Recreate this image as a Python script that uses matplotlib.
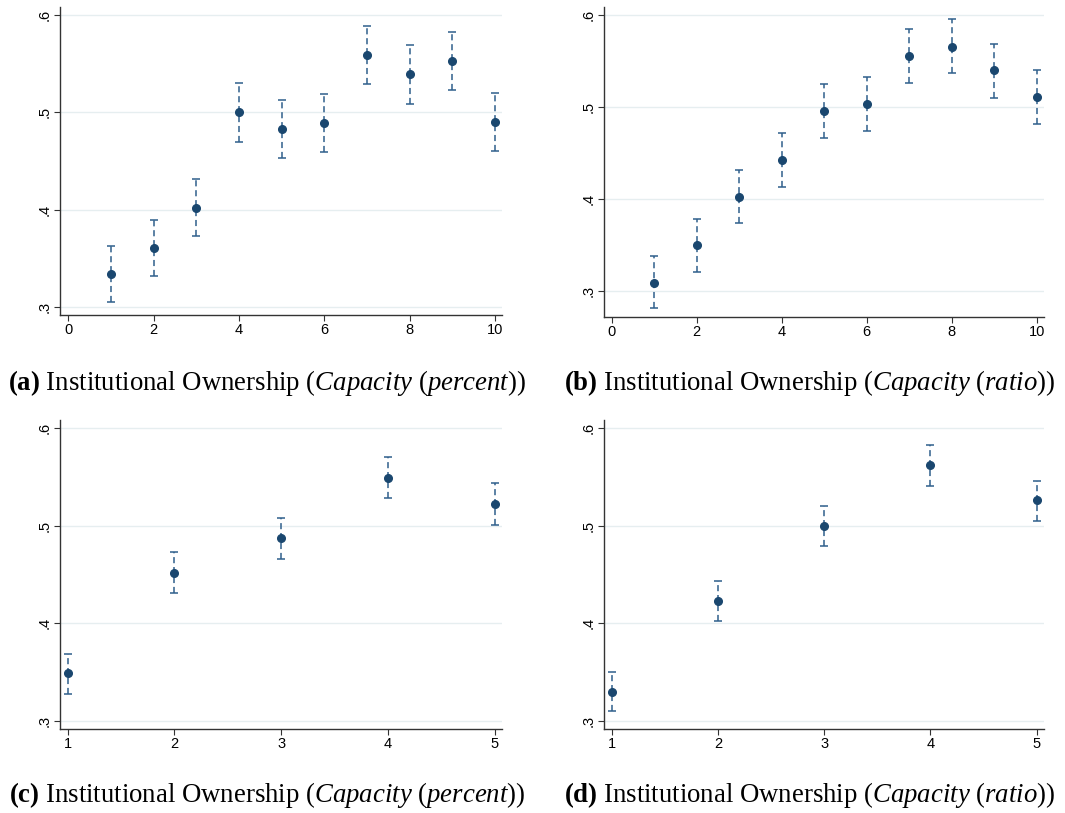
import matplotlib
matplotlib.use("Agg")
import matplotlib.pyplot as plt

plt.rcParams['mathtext.fontset'] = 'custom'
plt.rcParams['mathtext.rm'] = 'Liberation Serif'
plt.rcParams['mathtext.it'] = 'Liberation Serif:italic'
plt.rcParams['mathtext.bf'] = 'Liberation Serif:bold'

# decile panels (a), (b)
x_dec = [1, 2, 3, 4, 5, 6, 7, 8, 9, 10]
a_mean = [0.334, 0.361, 0.402, 0.500, 0.4825, 0.489, 0.559, 0.539, 0.553, 0.490]
a_hi = [0.363, 0.390, 0.432, 0.530, 0.513, 0.519, 0.589, 0.569, 0.5825, 0.520]
a_lo = [0.305, 0.332, 0.373, 0.470, 0.453, 0.459, 0.529, 0.509, 0.523, 0.460]

b_mean = [0.309, 0.350, 0.402, 0.442, 0.496, 0.503, 0.556, 0.566, 0.540, 0.511]
b_hi = [0.338, 0.378, 0.4315, 0.4717, 0.5257, 0.533, 0.5854, 0.596, 0.569, 0.5405]
b_lo = [0.281, 0.321, 0.3735, 0.413, 0.4666, 0.474, 0.5267, 0.537, 0.510, 0.4818]

# quintile panels (c), (d)
x_quin = [1, 2, 3, 4, 5]
c_mean = [0.349, 0.452, 0.487, 0.549, 0.522]
c_hi = [0.369, 0.473, 0.508, 0.5704, 0.5438]
c_lo = [0.328, 0.431, 0.4655, 0.528, 0.501]

d_mean = [0.330, 0.4226, 0.4999, 0.5615, 0.5258]
d_hi = [0.3508, 0.443, 0.5203, 0.5823, 0.546]
d_lo = [0.310, 0.4022, 0.479, 0.540, 0.505]

yticks = [0.3, 0.4, 0.5, 0.6]
ytick_labels = ['.3', '.4', '.5', '.6']

captions = [
    r"$\mathbf{(a)}$ Institutional Ownership ($\mathit{Capacity}$ ($\mathit{percent}$))",
    r"$\mathbf{(b)}$ Institutional Ownership ($\mathit{Capacity}$ ($\mathit{ratio}$))",
    r"$\mathbf{(c)}$ Institutional Ownership ($\mathit{Capacity}$ ($\mathit{percent}$))",
    r"$\mathbf{(d)}$ Institutional Ownership ($\mathit{Capacity}$ ($\mathit{ratio}$))",
]

navy = '#1a476f'
bar_col = '#2f5f8c'
grid_col = '#e6eef0'

fig = plt.figure(figsize=(10.65, 8.13), dpi=100)

panels = [
    # rect, x, mean, lo, hi, xticks, xlim, ylim
    ([0.0563, 0.6125, 0.4151, 0.3786], x_dec, a_mean, a_lo, a_hi, [0, 2, 4, 6, 8, 10], (-0.19, 10.16), (0.292, 0.608)),
    ([0.5674, 0.6105, 0.4131, 0.3805], x_dec, b_mean, b_lo, b_hi, [0, 2, 4, 6, 8, 10], (-0.17, 10.18), (0.272, 0.6087)),
    ([0.0563, 0.1033, 0.4153, 0.3801], x_quin, c_mean, c_lo, c_hi, [1, 2, 3, 4, 5], (0.928, 5.07), (0.292, 0.608)),
    ([0.5674, 0.1033, 0.4131, 0.3801], x_quin, d_mean, d_lo, d_hi, [1, 2, 3, 4, 5], (0.930, 5.072), (0.292, 0.608)),
]

for rect, xs, mean, lo, hi, xt, xl, yl in panels:
    ax = fig.add_axes(rect)
    err = [[m - l for m, l in zip(mean, lo)], [h - m for m, h in zip(mean, hi)]]
    eb = ax.errorbar(xs, mean, yerr=err, fmt='none', ecolor=bar_col, elinewidth=1.1,
                     capsize=3, capthick=1.1, zorder=2)
    eb[2][0].set_linestyle((0, (4, 2.5)))
    ax.plot(xs, mean, 'o', color=navy, markersize=5.5, zorder=3)
    ax.set_xlim(*xl)
    ax.set_ylim(*yl)
    ax.set_xticks(xt)
    ax.set_yticks(yticks)
    ax.set_yticklabels(ytick_labels, rotation=90, va='center')
    for lab in ax.get_xticklabels() + ax.get_yticklabels():
        lab.set_fontfamily('Liberation Sans')
        lab.set_fontsize(10.5)
    ax.tick_params(direction='out', length=4, width=0.8, color='#333333', pad=2)
    ax.grid(axis='y', color=grid_col, linewidth=1)
    ax.set_axisbelow(True)
    ax.spines['top'].set_visible(False)
    ax.spines['right'].set_visible(False)
    for s in ('left', 'bottom'):
        ax.spines[s].set_color('#333333')
        ax.spines[s].set_linewidth(1.0)

cap_pos = [(0.2507, 0.5285), (0.7606, 0.5285), (0.2507, 0.0225), (0.7606, 0.0225)]
for (cx, cy), cap in zip(cap_pos, captions):
    fig.text(cx, cy, cap, ha='center', va='center', fontsize=19.3, family='Liberation Serif')

fig.savefig('out.png', dpi=100)
